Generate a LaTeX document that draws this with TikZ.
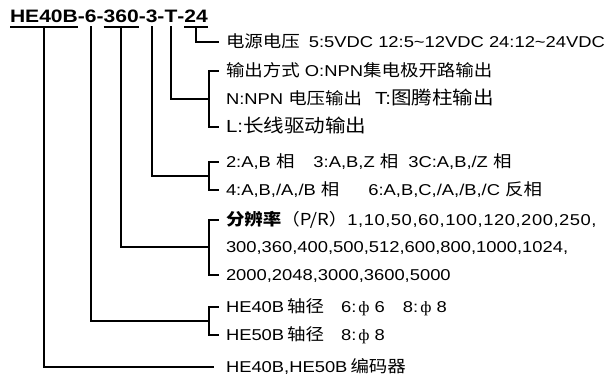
\documentclass[tikz,border=0pt]{standalone}
\usepackage{fontspec}
\usetikzlibrary{calc}
\setmainfont[FakeStretch=1.17]{Liberation Sans}
\newfontfamily\cjk[FakeStretch=1.12,Scale=1.05]{Noto Sans CJK SC}
\newfontfamily\phif[FakeStretch=1.1]{Liberation Serif}
\newcommand\zh[1]{{\cjk #1}}
\newcommand\zhb[1]{{\cjk\bfseries #1}}
\newcommand\ph{{\phif ф}}
\newcommand\tld{\textasciitilde}
\newcommand\largetxt[1]{{\fontsize{17.5}{20}\selectfont #1}}
\newcommand\spcd[1]{{\addfontfeature{LetterSpace=3.5}#1}}
\begin{document}
\begin{tikzpicture}[x=1pt,y=-1pt,line width=2.2pt,
  txt/.style={anchor=west,inner sep=0pt,outer sep=0pt,font=\fontsize{15.7}{18}\selectfont,text height=13pt,text depth=2pt},
  seg/.style={anchor=base west,inner sep=0pt,outer sep=0pt,font=\fontsize{18}{20}\selectfont\bfseries},
  conn/.style={line width=2.2pt,line cap=rect}]
\useasboundingbox (0,0) rectangle (606,379);
% title segments
\node[seg] (s1) at (10,23) {HE40B};
\node[seg] (d1) at (s1.base east) {-};
\node[seg] (s2) at (d1.base east) {6};
\node[seg] (d2) at (s2.base east) {-};
\node[seg] (s3) at (d2.base east) {360};
\node[seg] (d3) at (s3.base east) {-};
\node[seg] (s4) at (d3.base east) {3};
\node[seg] (d4) at (s4.base east) {-};
\node[seg] (s5) at (d4.base east) {T};
\node[seg] (d5) at (s5.base east) {-};
\node[seg] (s6) at (d5.base east) {24};
% underlines
\foreach \s in {s1,s3,s6}
  \draw[conn,line cap=butt] ([yshift=-4pt]\s.south west) -- ([yshift=-4pt]\s.south east);
% right-side texts
\node[txt] (v1) at (226,42) {\zh{电源电压}\hspace{9pt}5:5VDC 12:5\tld12VDC 24:12\tld24VDC};
\node[txt] (o1) at (226,71) {\zh{输出方式} O:NPN\zh{集电极开路输出}};
\node[txt] (o2) at (226,99) {N:NPN \zh{电压输出}\hspace{13pt}\largetxt{T:\zh{图腾柱输出}}};
\node[txt] (o3) at (226,127) {\largetxt{L:\zh{长线驱动输出}}};
\node[txt] (p1) at (226,162) {2:A,B \zh{相}\hspace{19pt}3:A,B,Z \zh{相}\hspace{10pt}3C:A,B,/Z \zh{相}};
\node[txt] (p2) at (226,190) {4:A,B,/A,/B \zh{相}\hspace{29pt}6:A,B,C,/A,/B,/C \zh{反相}};
\node[txt] (r1) at (226,220) {\zhb{分辨率}\zh{（P/R）}\spcd{1,10,50,60,100,120,200,250,}};
\node[txt] (r2) at (226,247) {300,360,400,500,512,600,800,1000,1024,};
\node[txt] (r3) at (226,275) {2000,2048,3000,3600,5000};
\node[txt] (h1) at (226,307) {HE40B\hspace{3pt}\zh{轴径}\hspace{17pt}6:\hspace{2pt}\ph\ 6\hspace{18pt}8:\hspace{2pt}\ph\ 8};
\node[txt] (h2) at (226,335) {HE50B\hspace{3pt}\zh{轴径}\hspace{17pt}8:\hspace{2pt}\ph\ 8};
\node[txt] (e1) at (226,367) {HE40B,HE50B\hspace{3pt}\zh{编码器}};
% connectors
\draw[conn] ([yshift=-4pt]s6.south) |- ([xshift=-8pt]v1.west);
\draw[conn] ([yshift=-4pt]s5.south) |- ([xshift=-17pt]o2.west);
\draw[conn] ([xshift=-8pt]o1.west) -| ([xshift=-17pt]o3.west) -- ([xshift=-8pt]o3.west);
\draw[conn] ([yshift=-4pt]s4.south) |- ($([xshift=-17pt]p1.west)!0.5!([xshift=-17pt]p2.west)$);
\draw[conn] ([xshift=-8pt]p1.west) -| ([xshift=-17pt]p2.west) -- ([xshift=-8pt]p2.west);
\draw[conn] ([yshift=-4pt]s3.south) |- ([xshift=-17pt]r2.west);
\draw[conn] ([xshift=-8pt]r1.west) -| ([xshift=-17pt]r3.west) -- ([xshift=-8pt]r3.west);
\draw[conn] ([yshift=-4pt]s2.south) |- ($([xshift=-17pt]h1.west)!0.5!([xshift=-17pt]h2.west)$);
\draw[conn] ([xshift=-8pt]h1.west) -| ([xshift=-17pt]h2.west) -- ([xshift=-8pt]h2.west);
\draw[conn] ([yshift=-4pt]s1.south) |- ([xshift=-13pt]e1.west);
\end{tikzpicture}
\end{document}
